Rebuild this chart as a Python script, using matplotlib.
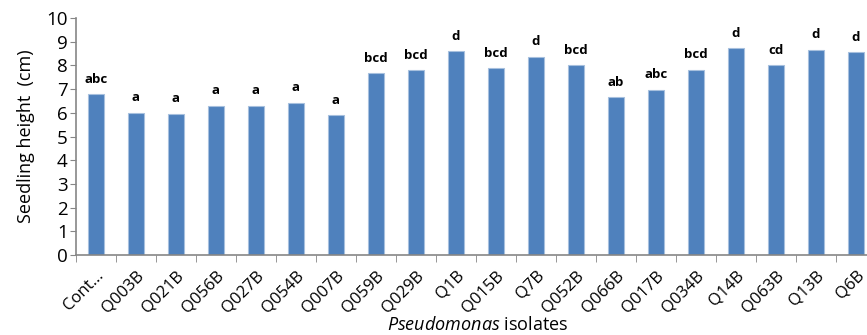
import numpy as np
import matplotlib.pyplot as plt

isolates = ["Cont...", "Q003B", "Q021B", "Q056B", "Q027B", "Q054B", "Q007B", "Q059B",
            "Q029B", "Q1B", "Q015B", "Q7B", "Q052B", "Q066B", "Q017B", "Q034B",
            "Q14B", "Q063B", "Q13B", "Q6B"]
heights = [6.8, 6.0, 5.97, 6.3, 6.3, 6.43, 5.9, 7.68, 7.8, 8.6, 7.87, 8.37, 8.02,
           6.65, 6.98, 7.82, 8.73, 8.02, 8.66, 8.56]
groups = ["abc", "a", "a", "a", "a", "a", "a", "bcd", "bcd", "d", "bcd", "d", "bcd",
          "ab", "abc", "bcd", "d", "cd", "d", "d"]

plt.rcParams["font.family"] = ["Open Sans", "DejaVu Sans"]
plt.rcParams["mathtext.fontset"] = "custom"
plt.rcParams["mathtext.rm"] = "Open Sans"
plt.rcParams["mathtext.it"] = "Open Sans:italic"

fig = plt.figure(figsize=(8.67, 3.35), dpi=100)
# plot area runs past the right edge, as in the cropped original
ax = fig.add_axes([76 / 867, 80 / 335, 800 / 867, 237 / 335])

x = np.arange(len(isolates))
ax.bar(x, heights, width=0.4, color="#4F81BD", edgecolor="#A7C0DE", linewidth=0.8)

for xi, h, g in zip(x, heights, groups):
    ax.annotate(g, (xi, h), xytext=(0, 6), textcoords="offset points",
                ha="center", va="bottom", fontsize=9.5, fontweight="bold")

ax.set_xlim(-0.5, len(isolates) - 0.5)
ax.set_ylim(0, 10)
ax.set_yticks(range(0, 11))
ax.tick_params(axis="y", labelsize=13.5, length=4, color="#868686", pad=2)

ax.set_xticks(x)
ax.set_xticklabels(isolates, rotation=45, ha="right", rotation_mode="anchor", fontsize=12)
ax.tick_params(axis="x", which="major", length=0, pad=9)
ax.set_xticks(np.arange(-0.5, len(isolates), 1.0), minor=True)
ax.tick_params(axis="x", which="minor", length=5, color="#868686")

for s in ["top", "right"]:
    ax.spines[s].set_visible(False)
for s in ["left", "bottom"]:
    ax.spines[s].set_color("#868686")
    ax.spines[s].set_linewidth(1.2)

ax.set_ylabel("Seedling height  (cm)", fontsize=13, labelpad=8)
fig.text(478 / 867, 1 / 335, r"$\mathit{Pseudomonas}$ isolates", ha="center", va="bottom",
         fontsize=13)

plt.savefig("out.png", dpi=100)
